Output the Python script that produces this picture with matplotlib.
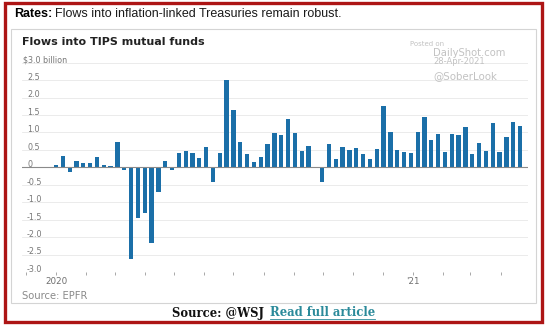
import matplotlib
matplotlib.use('Agg')
import matplotlib.pyplot as plt
import matplotlib.dates as mdates
import matplotlib.transforms as mtransforms
import pandas as pd
from matplotlib.patches import Rectangle
from matplotlib.lines import Line2D

# Weekly flows into TIPS mutual funds, $ billion
week_start = '2020-01-01'
flows = [0.08, 0.33, -0.12, 0.17, 0.13, 0.13, 0.30, 0.08, 0.03, 0.72,
         -0.09, -2.63, -1.46, -1.32, -2.16, -0.70, 0.17, -0.08, 0.41, 0.46,
         0.42, 0.26, 0.58, -0.41, 0.41, 2.50, 1.63, 0.73, 0.39, 0.14,
         0.30, 0.68, 0.98, 0.93, 1.38, 0.98, 0.47, 0.60, 0.02, -0.42,
         0.67, 0.23, 0.58, 0.49, 0.55, 0.37, 0.25, 0.52, 1.75, 1.00,
         0.51, 0.44, 0.40, 1.00, 1.45, 0.77, 0.97, 0.44, 0.97, 0.92,
         1.16, 0.38, 0.69, 0.47, 1.26, 0.44, 0.88, 1.29, 1.19]
weeks = pd.date_range(week_start, periods=len(flows), freq='7D')
y_ticks = [3.0, 2.5, 2.0, 1.5, 1.0, 0.5, 0, -0.5, -1.0, -1.5, -2.0, -2.5, -3.0]
y_labels = ['$3.0 billion', '2.5', '2.0', '1.5', '1.0', '0.5', '0',
            '-0.5', '-1.0', '-1.5', '-2.0', '-2.5', '-3.0']

W, H = 549, 329
def fx(px):
    return px / W
def fy(py):
    return 1 - py / H

fig = plt.figure(figsize=(W / 100, H / 100), dpi=100)
fig.patch.set_facecolor('white')

# red frame and the chart card
fig.patches.append(Rectangle((fx(5), fy(322)), fx(542) - fx(5), fy(3) - fy(322),
                             transform=fig.transFigure, fill=False,
                             edgecolor='#ad1515', linewidth=2.4, zorder=-2))
fig.patches.append(Rectangle((fx(11), fy(303)), fx(536) - fx(11), fy(29) - fy(303),
                             transform=fig.transFigure, facecolor='white',
                             edgecolor='#d4d4d4', linewidth=0.8, zorder=-2))

# headline
t1 = fig.text(fx(14), fy(14), 'Rates:', fontsize=9, fontweight='bold',
              family='Liberation Sans', va='center', ha='left')
fig.canvas.draw()
bb = t1.get_window_extent()
fig.text(fx(bb.x1 + 3), fy(14), 'Flows into inflation-linked Treasuries remain robust.',
         fontsize=9, family='Liberation Sans', va='center', ha='left', color='#1a1a1a')

# chart title
fig.text(fx(22), fy(42), 'Flows into TIPS mutual funds', fontsize=8,
         fontweight='bold', family='DejaVu Sans', color='#222222', va='center')

ax = fig.add_axes([fx(22), fy(272), fx(528) - fx(22), fy(62.7) - fy(272)])
ax.set_zorder(1)
ax.patch.set_alpha(0)
ax.bar(weeks, flows, width=4.4, color='#1b6fa8', zorder=3)

x0 = weeks[0] - pd.Timedelta(days=34.9)
x1 = weeks[-1] + pd.Timedelta(days=8.2)
ax.set_xlim(x0, x1)
ax.set_ylim(-3.0, 3.0)

for s in ax.spines.values():
    s.set_visible(False)
ax.set_yticks(y_ticks)
ax.set_yticklabels([])
ax.tick_params(axis='y', length=0)
ax.grid(axis='y', color='#e8e8e8', linewidth=0.6, zorder=0)
ax.axhline(0, color='#8a8a8a', linewidth=0.8, zorder=4)

lab_tr = mtransforms.blended_transform_factory(fig.transFigure, ax.transData)
for val, lab in zip(y_ticks, y_labels):
    xpos = fx(23) if lab.startswith('$') else fx(27)
    ax.text(xpos, val + 0.075, lab, transform=lab_tr,
            fontsize=5.8, color='#777777', ha='left', va='center', family='DejaVu Sans')

# monthly ticks, label only at new year
ax.xaxis.set_major_locator(mdates.MonthLocator())
def fmt(x, pos):
    d = mdates.num2date(x)
    if d.month == 1:
        return '2020' if d.year == 2020 else "'21"
    return ''
ax.xaxis.set_major_formatter(plt.FuncFormatter(fmt))
ax.tick_params(axis='x', length=2, width=0.6, color='#9a9a9a', pad=1.5,
               labelsize=6.3, labelcolor='#6e6e6e', direction='out')

# source inside card
fig.text(fx(22), fy(296), 'Source: EPFR', fontsize=7.2, color='#8a8a8a',
         va='center', family='DejaVu Sans')

# watermark
wm = '#c2c2c2'
fig.text(fx(410), fy(44), 'Posted on', fontsize=5, color=wm, va='center')
fig.text(fx(433), fy(53), 'DailyShot.com', fontsize=7.2, color=wm, va='center')
fig.text(fx(433), fy(62), '28-Apr-2021', fontsize=6, color=wm, va='center')
fig.text(fx(433), fy(76), '@SoberLook', fontsize=7.4, color=wm, va='center')

# footer
s1 = fig.text(fx(172), fy(313), 'Source: @WSJ', fontsize=8.4, fontweight='bold',
              family='DejaVu Serif', va='center', ha='left', color='#111111')
fig.canvas.draw()
bb = s1.get_window_extent()
s2 = fig.text(fx(bb.x1 + 6), fy(313), 'Read full article', fontsize=8.4,
              fontweight='bold', family='DejaVu Serif', va='center', ha='left',
              color='#2b8a9a')
fig.canvas.draw()
bb2 = s2.get_window_extent()
fig.lines.append(Line2D([bb2.x0 / W, bb2.x1 / W], [fy(319), fy(319)],
                        transform=fig.transFigure, color='#2b8a9a', linewidth=0.6))

fig.savefig('out.png', dpi=100, facecolor='white')
